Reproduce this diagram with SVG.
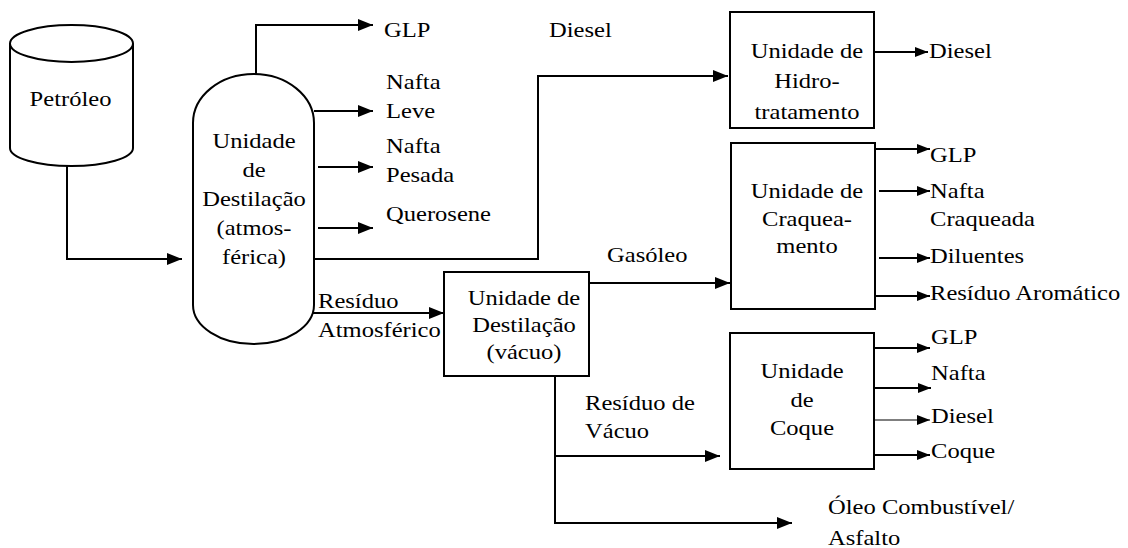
<svg xmlns="http://www.w3.org/2000/svg" width="1128" height="548" viewBox="0 0 1128 548">
<style>
.s{fill:none;stroke:#000;stroke-width:2}
.t1{fill:none;stroke:#000;stroke-width:1.2}
.n{fill:#fff;stroke:#000;stroke-width:2}
text{font-family:"Liberation Serif","Times New Roman",serif;font-size:21px;fill:#000}
.m{text-anchor:middle}
</style>
<defs>
<marker id="ab" viewBox="0 0 15 12" refX="15" refY="6" markerWidth="15" markerHeight="12" markerUnits="userSpaceOnUse" orient="auto"><path d="M0,0 L15,6 L0,12 Z" fill="#000"/></marker>
<marker id="as" viewBox="0 0 13 10" refX="13" refY="5" markerWidth="13" markerHeight="10" markerUnits="userSpaceOnUse" orient="auto"><path d="M0,0 L13,5 L0,10 Z" fill="#000"/></marker>
</defs>
<rect width="1128" height="548" fill="#fff"/>
<g id="connectors">
<path class="s" d="M67,166 V259 H182" marker-end="url(#ab)"/>
<path class="s" d="M256,74 V25 H373" marker-end="url(#ab)"/>
<path class="s" d="M314,111 H373" marker-end="url(#ab)"/>
<path class="s" d="M318,167 H373" marker-end="url(#ab)"/>
<path class="s" d="M318,228 H373" marker-end="url(#ab)"/>
<path class="s" d="M313,259 H538 V76 H728" marker-end="url(#ab)"/>
<path class="s" d="M312,313 H444" marker-end="url(#ab)"/>
<path class="s" d="M589,283 H730" marker-end="url(#ab)"/>
<path class="s" d="M555,376 V523 H792" marker-end="url(#ab)"/>
<path class="s" d="M555,456 H720" marker-end="url(#ab)"/>
<path class="s" d="M874,52 H928" marker-end="url(#as)"/>
<path class="s" d="M875,149 H930" marker-end="url(#as)"/>
<path class="s" d="M879,191 H930" marker-end="url(#as)"/>
<path class="s" d="M879,258 H930" marker-end="url(#as)"/>
<path class="s" d="M875,296 H930" marker-end="url(#as)"/>
<path class="s" d="M874,348 H930" marker-end="url(#as)"/>
<path class="s" d="M874,388 H931" marker-end="url(#as)"/>
<path class="t1" d="M874,420 H930" marker-end="url(#as)"/>
<path class="s" d="M874,455 H930" marker-end="url(#as)"/>
</g>
<g id="petroleo">
<path class="n" d="M10,43.5 V148 A61.5,18 0 0 0 133,148 V43.5"/>
<ellipse class="n" cx="71.5" cy="43.5" rx="61.5" ry="18.5"/>
<text class="m" transform="translate(70.5,0) scale(1.17,1)"><tspan x="0" y="106">Petróleo</tspan></text>
</g>
<g id="destilacao-atm">
<path class="n" d="M193,123 A60.5,49 0 0 1 314,123 V305 A60.5,39 0 0 1 193,305 Z"/>
<text class="m" transform="translate(254,0) scale(1.17,1)"><tspan x="0" y="148">Unidade</tspan><tspan x="0" y="177">de</tspan><tspan x="0" y="206">Destilação</tspan><tspan x="0" y="235">(atmos-</tspan><tspan x="0" y="264">férica)</tspan></text>
</g>
<g id="destilacao-vac">
<rect class="n" x="444" y="272" width="145" height="104"/>
<text class="m" transform="translate(524,0) scale(1.17,1)"><tspan x="0" y="305">Unidade de</tspan><tspan x="0" y="332">Destilação</tspan><tspan x="0" y="359">(vácuo)</tspan></text>
</g>
<g id="hidrotratamento">
<rect class="n" x="730" y="12" width="144" height="116"/>
<text class="m" transform="translate(807,0) scale(1.17,1)"><tspan x="0" y="58">Unidade de</tspan><tspan x="0" y="88">Hidro-</tspan><tspan x="0" y="119">tratamento</tspan></text>
</g>
<g id="craqueamento">
<rect class="n" x="731" y="143" width="144" height="166"/>
<text class="m" transform="translate(807,0) scale(1.17,1)"><tspan x="0" y="198">Unidade de</tspan><tspan x="0" y="226">Craquea-</tspan><tspan x="0" y="253">mento</tspan></text>
</g>
<g id="coque">
<rect class="n" x="730" y="333" width="144" height="136"/>
<text class="m" transform="translate(802,0) scale(1.17,1)"><tspan x="0" y="378">Unidade</tspan><tspan x="0" y="407">de</tspan><tspan x="0" y="435">Coque</tspan></text>
</g>
<g id="labels">
<text transform="translate(384,0) scale(1.17,1)"><tspan x="0" y="37">GLP</tspan></text>
<text transform="translate(386,0) scale(1.17,1)"><tspan x="0" y="89">Nafta</tspan><tspan x="0" y="118">Leve</tspan><tspan x="0" y="153">Nafta</tspan><tspan x="0" y="182">Pesada</tspan><tspan x="0" y="221">Querosene</tspan></text>
<text transform="translate(549,0) scale(1.17,1)"><tspan x="0" y="37">Diesel</tspan></text>
<text transform="translate(318,0) scale(1.17,1)"><tspan x="0" y="308">Resíduo</tspan><tspan x="0" y="337">Atmosférico</tspan></text>
<text transform="translate(607,0) scale(1.17,1)"><tspan x="0" y="262">Gasóleo</tspan></text>
<text transform="translate(585,0) scale(1.17,1)"><tspan x="0" y="410">Resíduo de</tspan><tspan x="0" y="438">Vácuo</tspan></text>
<text transform="translate(828,0) scale(1.17,1)"><tspan x="0" y="514">Óleo Combustível/</tspan><tspan x="0" y="545">Asfalto</tspan></text>
<text transform="translate(929,0) scale(1.17,1)"><tspan x="0" y="58">Diesel</tspan></text>
<text transform="translate(930,0) scale(1.17,1)"><tspan x="0" y="162">GLP</tspan><tspan x="0" y="198">Nafta</tspan><tspan x="0" y="226">Craqueada</tspan><tspan x="0" y="263">Diluentes</tspan><tspan x="0" y="300">Resíduo Aromático</tspan></text>
<text transform="translate(931,0) scale(1.17,1)"><tspan x="0" y="344">GLP</tspan><tspan x="0" y="380">Nafta</tspan><tspan x="0" y="423">Diesel</tspan><tspan x="0" y="458">Coque</tspan></text>
</g>
</svg>
